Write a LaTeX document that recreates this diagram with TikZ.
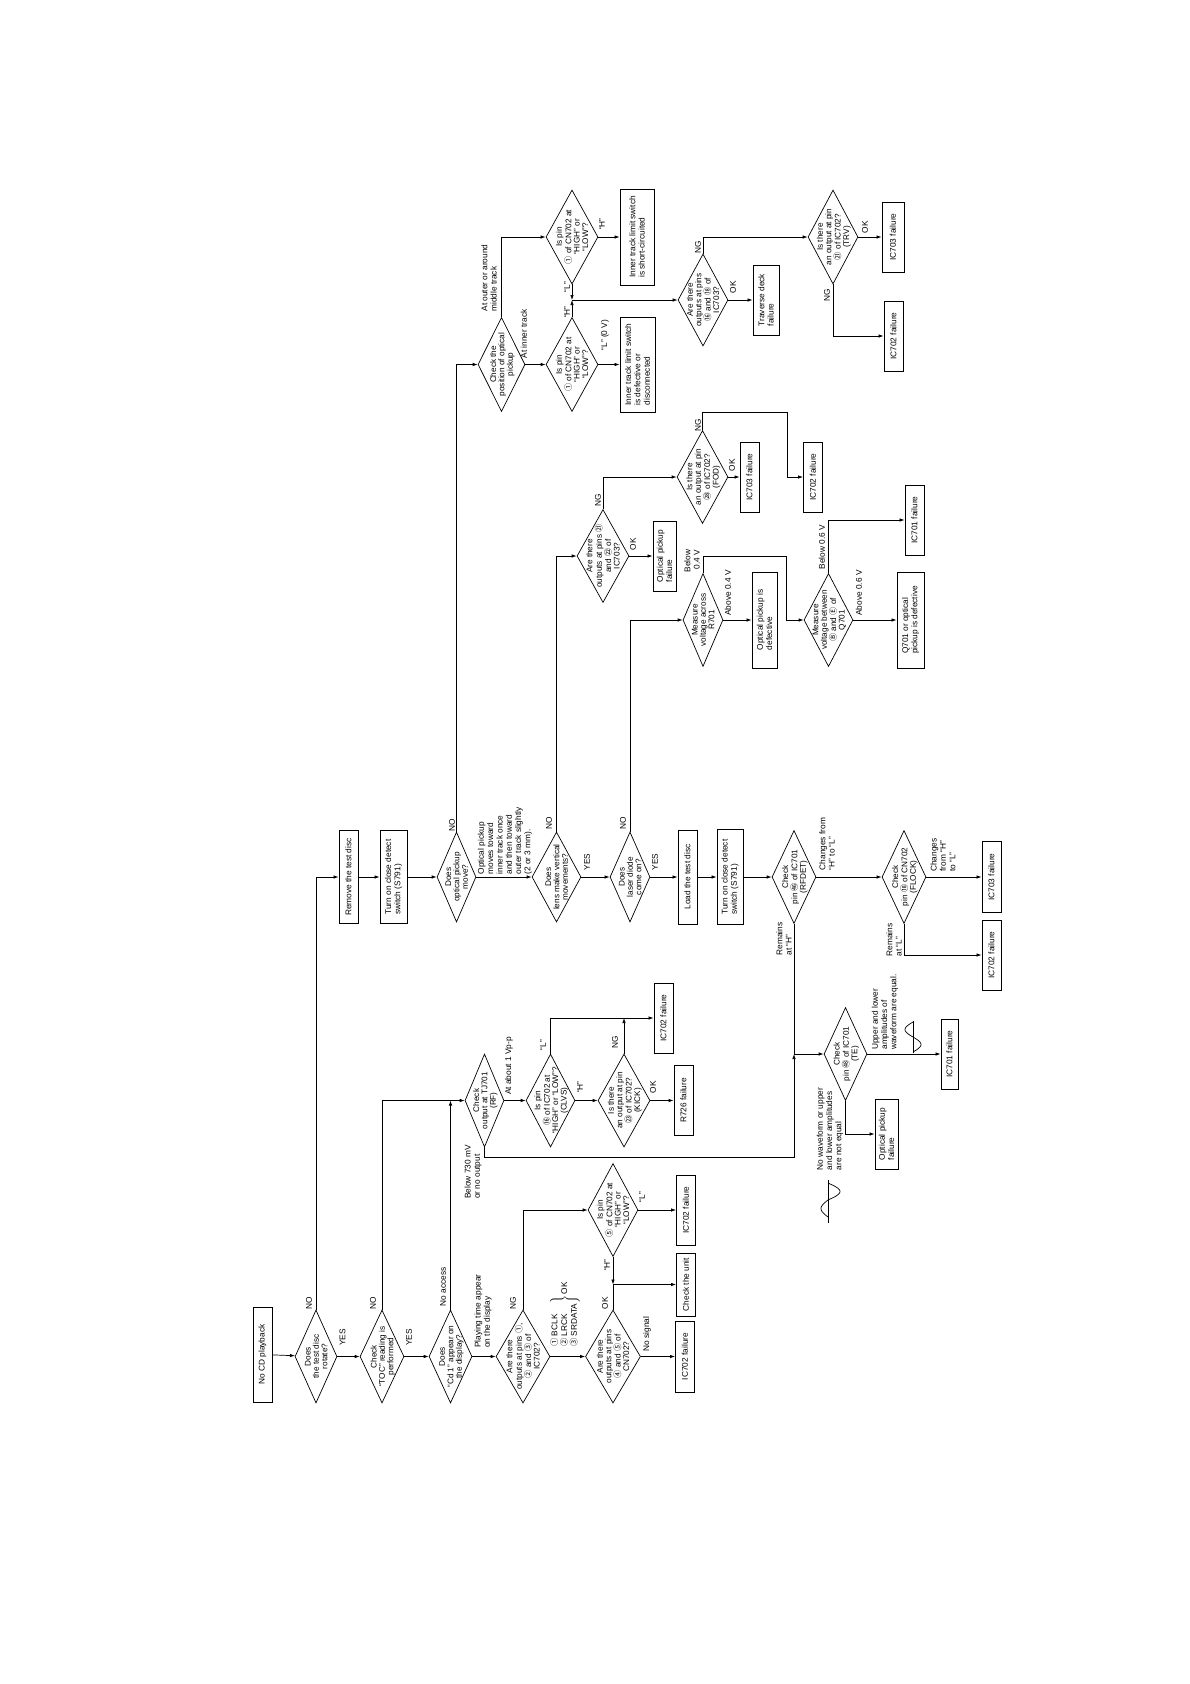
\documentclass[tikz,border=0pt]{standalone}
\usepackage{fontspec}
\setmainfont{Liberation Sans}
\newfontfamily\cjfont{Noto Sans CJK JP}
\usetikzlibrary{arrows.meta,shapes.geometric}

\newcommand{\cnum}[1]{{\cjfont #1}}
\newcommand{\dtxt}[1]{\makebox[0pt]{\raisebox{-.5\height}[0pt][0pt]{\fontsize{8.2}{8.4}\selectfont\begin{tabular}[b]{@{}c@{}}#1\end{tabular}}}}

\begin{document}
\begin{tikzpicture}[x=1pt,y=-1pt,
  every node/.style={rotate=90,font=\fontsize{8.3}{9.3}\selectfont},
  box/.style={draw,line width=0.9pt,align=left,inner sep=1pt,minimum width=70pt,minimum height=19pt},
  dec/.style={draw,diamond,line width=0.7pt,inner sep=0pt,minimum width=93pt,minimum height=48pt},
  lbl/.style={inner sep=0pt,align=left},
  ln/.style={line width=0.7pt},
  arr/.style={-{Latex[length=5pt,width=3.5pt]},line width=0.7pt}
]
\fill[white] (0,0) rectangle (1190,1684);
\useasboundingbox (0,0) rectangle (1190,1684);

% first row
\node[box,minimum width=95pt] (start) at (262.5,1354.5) {No CD playback};
\node[dec,minimum height=42pt] (rot) at (316,1356.5) {\dtxt{Does\\the test disc\\rotate?}};
\node[dec,minimum height=44pt] (toc) at (382,1356.5) {\dtxt{Check\\``TOC'' reading is\\performed}};
\node[dec,minimum height=43pt] (cd1) at (450.5,1356.5) {\dtxt{Does\\``Cd 1'' appear on\\the display?}};
\node[dec,minimum height=54pt] (pin123) at (523,1356.5) {\dtxt{Are there\\outputs at pins \cnum{①},\\\cnum{②} and \cnum{③} of\\IC702?}};
\node[dec,minimum height=55pt] (pin45) at (613,1356.5) {\dtxt{Are there\\outputs at pins\\\cnum{④} and \cnum{⑤} of\\CN702?}};
\node[dec,minimum height=50pt] (pin5) at (613,1210) {\dtxt{Is pin\\\cnum{⑤} of CN702 at\\``HIGH'' or\\``LOW''?}};
\coordinate (j1) at (613,1284.5);
\node[box,minimum width=71pt] (fail1) at (685,1356.5) {IC702 failure};
\node[box,minimum width=63pt] (unit) at (686,1284.5) {Check the unit};
\node[box] (fail2) at (686,1210) {IC702 failure};

% RF row
\node[dec,minimum height=39pt] (rf) at (484.5,1100.5) {\dtxt{Check\\output at TJ701\\(RF)}};
\node[dec,minimum height=49pt] (clvs) at (550.5,1100.5) {\dtxt{Is pin\\\cnum{⑯} of IC702 at\\``HIGH'' or ``LOW''?\\(CLVS)}};
\node[dec,minimum height=52pt] (kick) at (624,1100.5) {\dtxt{Is there\\an output at pin\\\cnum{㉓} of IC702?\\(KICK)}};
\node[box] (fail3) at (663.5,1018) {IC702 failure};
\node[box] (r726) at (683.5,1100.5) {R726 failure};
\node[dec,minimum height=43pt] (te) at (845.5,1054) {\dtxt{Check\\pin \cnum{㊽} of IC701\\(TE)}};
\coordinate (jte) at (794,1054);
\coordinate (c1) at (794,1157);
\node[box,minimum height=17pt] (fail4) at (949.5,1054) {IC701 failure};
\node[box,minimum height=23pt] (opf1) at (886.5,1134) {Optical pickup\\failure};

% disc row
\node[box,minimum width=93pt] (rem) at (348.5,877) {Remove the test disc};
\node[box,minimum width=93pt,minimum height=27pt] (cls1) at (393.5,877) {Turn on close detect\\switch (S791)};
\node[dec,minimum width=90pt,minimum height=39pt] (move) at (456.5,877) {\dtxt{Does\\optical pickup\\move?}};
\node[dec,minimum width=90pt,minimum height=49pt] (lens) at (556.5,877) {\dtxt{Does\\lens make vertical\\movements?}};
\node[dec,minimum width=90pt,minimum height=40pt] (laser) at (630,877) {\dtxt{Does\\laser diode\\come on?}};
\node[box,minimum width=94pt] (load) at (687.5,877) {Load the test disc};
\node[box,minimum width=95pt,minimum height=26pt] (cls2) at (730,877) {Turn on close detect\\switch (S791)};
\node[dec,minimum height=44pt] (rfdet) at (794,877) {\dtxt{Check\\pin \cnum{㊻} of IC701\\(RFDET)}};
\node[dec,minimum height=44pt] (flock) at (904,877) {\dtxt{Check\\pin \cnum{⑱} of CN702\\(FLOCK)}};
\node[box,minimum width=71pt] (fail5) at (991.5,877) {IC703 failure};
\node[box] (fail6) at (991.5,955) {IC702 failure};

% pickup checks
\node[dec,minimum height=52pt] (pin2122) at (603,556) {\dtxt{Are there\\outputs at pins \cnum{㉑}\\and \cnum{㉒} of\\IC703?}};
\node[box,minimum height=23pt] (opf2) at (664.5,556) {Optical pickup\\failure};
\node[dec,minimum height=51pt] (fod) at (702.5,477) {\dtxt{Is there\\an output at pin\\\cnum{㉘} of IC702?\\(FOD)}};
\node[box] (fail8) at (749.5,477) {IC703 failure};
\node[box] (fail9) at (813,477) {IC702 failure};
\coordinate (c2) at (787,412);
\node[dec,minimum height=40pt] (r701) at (703,620) {\dtxt{Measure\\voltage across\\R701}};
\node[box,minimum width=96pt,minimum height=25pt] (opd) at (764.5,620) {Optical pickup is\\defective};
\coordinate (c3) at (786,556);
\node[dec,minimum height=49pt] (q701) at (828.5,620) {\dtxt{Measure\\voltage between\\\cnum{Ⓑ} and \cnum{Ⓔ} of\\Q701}};
\node[box,minimum width=96pt,minimum height=27pt] (q701d) at (910.5,620) {Q701 or optical\\pickup is defective};
\node[box] (fail7) at (914.5,520) {IC701 failure};

% position checks
\node[dec,minimum width=94pt,minimum height=47pt] (pos) at (501.5,364.5) {\dtxt{Check the\\position of optical\\pickup}};
\node[dec,minimum width=94pt,minimum height=52pt] (pin1a) at (572,237) {\dtxt{Is pin\\\cnum{①} of CN702 at\\``HIGH'' or\\``LOW''?}};
\node[dec,minimum width=94pt,minimum height=52pt] (pin1b) at (572,364.5) {\dtxt{Is pin\\\cnum{①} of CN702 at\\``HIGH'' or\\``LOW''?}};
\node[box,minimum width=96pt,minimum height=34pt] (isc) at (637,237) {Inner track limit switch\\is short-circuited};
\node[box,minimum width=95pt,minimum height=35pt] (idd) at (637.5,364.5) {Inner track limit switch\\is defective or\\disconnected};
\coordinate (j2) at (572,300);
\node[dec,minimum width=92pt,minimum height=50pt] (pin1618) at (703,300) {\dtxt{Are there\\outputs at pins\\\cnum{⑯} and \cnum{⑱} of\\IC703?}};
\node[box,minimum height=26pt] (trav) at (766,300) {Traverse deck\\failure};
\node[dec,minimum width=94pt,minimum height=50pt] (trv) at (833,237) {\dtxt{Is there\\an output at pin\\\cnum{㉑} of IC702?\\(TRV)}};
\node[box,minimum height=22pt] (fail10) at (893,237) {IC703 failure};
\node[box] (fail11) at (893.5,336) {IC702 failure};

% labels
\node[lbl] (tno1) at (309,1303) {NO};
\node[lbl] (tyes1) at (342.5,1337.5) {YES};
\node[lbl] (tno2) at (373,1303) {NO};
\node[lbl] (tyes2) at (409,1337.5) {YES};
\node[lbl] (tacc) at (443,1287) {No access};
\node[lbl] (tplay) at (483,1311) {Playing time appear\\on the display};
\node[lbl] (tng1) at (513,1303) {NG};
\node[lbl] (tsig) at (565,1315) {$\left.\begin{tabular}{@{}l@{}}\cnum{①} BCLK\\\cnum{②} LRCK\\\cnum{③} SRDATA\end{tabular}\right\}$\,OK};
\node[lbl] (tok1) at (605,1303) {OK};
\node[lbl] (tnosig) at (647,1334) {No signal};
\node[lbl] (th1) at (607,1265) {``H''};
\node[lbl] (tl1) at (642,1197) {``L''};
\node[lbl] (tbelow) at (473,1172) {Below 730 mV\\or no output};
\node[lbl] (tvpp) at (509,1066) {At about 1 Vp-p};
\node[lbl] (tl2) at (543,1045) {``L''};
\node[lbl] (th2) at (580,1087) {``H''};
\node[lbl] (tng2) at (615,1042) {NG};
\node[lbl] (tok2) at (653,1087) {OK};
\node[lbl] (tremh) at (784,939) {Remains\\at ``H''};
\node[lbl] (tchg1) at (827,844) {Changes from\\``H'' to ``L''};
\node[lbl] (tchg2) at (943,855) {Changes\\from ``H''\\to ``L''};
\node[lbl] (treml) at (894,940) {Remains\\at ``L''};
\node[lbl] (teq) at (885,1012) {Upper and lower\\amplitudes of\\waveform are equal.};
\node[lbl] (tneq) at (830,1129) {No waveform or upper\\and lower amplitudes\\are not equal};
\node[lbl] (tno3) at (452,825) {NO};
\node[lbl] (tmove) at (505,841) {Optical pickup\\moves toward\\inner track once\\and then toward\\outer track slightly\\(2 or 3 mm).};
\node[lbl] (tno4) at (549,823) {NO};
\node[lbl] (tyes3) at (587,862) {YES};
\node[lbl] (tno5) at (623,823) {NO};
\node[lbl] (tyes4) at (655,862) {YES};
\node[lbl] (tok3) at (633,544) {OK};
\node[lbl] (tng3) at (598,500) {NG};
\node[lbl] (tng4) at (698,425) {NG};
\node[lbl] (tok4) at (732,465) {OK};
\node[lbl,align=right] (tb04) at (692,561) {Below\\0.4 V};
\node[lbl] (ta04) at (728,593) {Above 0.4 V};
\node[lbl] (tb06) at (822,547) {Below 0.6 V};
\node[lbl] (ta06) at (859,593) {Above 0.6 V};
\node[lbl] (tinner) at (524,334) {At inner track};
\node[lbl] (touter) at (489,278) {At outer or around\\middle track};
\node[lbl] (tl0v) at (605,335) {``L'' (0 V)};
\node[lbl] (th3) at (602,224) {``H''};
\node[lbl] (tl3) at (567,287) {``L''};
\node[lbl] (th4) at (567,312) {``H''};
\node[lbl] (tok5) at (733,287) {OK};
\node[lbl] (tng5) at (698,247) {NG};
\node[lbl] (tok6) at (865,227) {OK};
\node[lbl] (tng6) at (827,295) {NG};

% waveforms
\draw[ln] (913,1053) -- (913,1021);
\draw[ln,smooth,samples=40,domain=0:360] plot ({913+8*sin(\x)},{1052-\x/360*30});
\draw[ln] (828,1180) -- (828,1223);
\draw[ln,smooth,samples=20,domain=0:180] plot ({828+12*sin(\x)},{1200-17*\x/180});
\draw[ln,smooth,samples=20,domain=0:180] plot ({828-7*sin(\x)},{1200+17*\x/180});

% connectors
\draw[arr] (start) -- (rot);
\draw[arr] (rot) -- (toc);
\draw[arr] (toc) -- (cd1);
\draw[arr] (cd1) -- (pin123);
\draw[arr] (pin123) -- (pin45);
\draw[arr] (pin45) -- (fail1);
\draw[arr] (rot) |- (rem);
\draw[arr] (toc) |- (rf);
\draw[arr] (cd1) -- (cd1 |- rf);
\draw[arr] (pin123) |- (pin5);
\draw[ln] (pin45) -- (j1);
\draw[arr] (pin5) -- (j1);
\draw[arr] (j1) -- (unit);
\draw[arr] (pin5) -- (fail2);

\draw[arr] (rf) -- (clvs);
\draw[arr] (clvs) -- (kick);
\draw[arr] (kick) -- (r726);
\draw[arr] (clvs) |- (fail3);
\draw[arr] (kick) -- (kick |- fail3);
\draw[arr] (rf) |- (c1) -- (jte);
\draw[ln] (rfdet) -- (jte);
\draw[arr] (jte) -- (te);
\draw[arr] (te) -- (fail4);
\draw[arr] (te) |- (opf1);

\draw[arr] (rem) -- (cls1);
\draw[arr] (cls1) -- (move);
\draw[arr] (move) -- (lens);
\draw[arr] (lens) -- (laser);
\draw[arr] (laser) -- (load);
\draw[arr] (load) -- (cls2);
\draw[arr] (cls2) -- (rfdet);
\draw[arr] (rfdet) -- (flock);
\draw[arr] (flock) -- (fail5);
\draw[arr] (flock) |- (fail6);
\draw[arr] (move) |- (pos);
\draw[arr] (lens) |- (pin2122);
\draw[arr] (laser) |- (r701);

\draw[arr] (pin2122) -- (opf2);
\draw[arr] (pin2122) |- (fod);
\draw[arr] (fod) -- (fail8);
\draw[arr] (fod) |- (c2) |- (fail9);
\draw[arr] (r701) -- (opd);
\draw[arr] (r701) |- (c3) |- (q701);
\draw[arr] (q701) -- (q701d);
\draw[arr] (q701) |- (fail7);

\draw[arr] (pos) -- (pin1b);
\draw[arr] (pos) |- (pin1a);
\draw[arr] (pin1a) -- (isc);
\draw[arr] (pin1b) -- (idd);
\draw[arr] (pin1a) -- (j2);
\draw[arr] (pin1b) -- (j2);
\draw[arr] (j2) -- (pin1618);
\draw[arr] (pin1618) -- (trav);
\draw[arr] (pin1618) |- (trv);
\draw[arr] (trv) -- (fail10);
\draw[arr] (trv) |- (fail11);
\end{tikzpicture}
\end{document}
